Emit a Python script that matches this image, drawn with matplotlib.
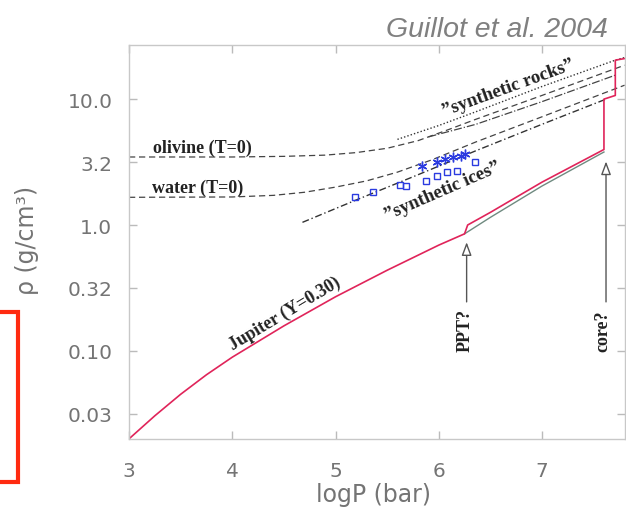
import matplotlib
matplotlib.use("Agg")
import matplotlib.pyplot as plt
from matplotlib.patches import Rectangle

# log10 P (bar) vs density (g/cm^3)
jup_x = [3.0, 3.25, 3.5, 3.75, 4.0, 4.5, 5.0, 5.5, 6.0, 6.25, 6.28, 6.5, 7.0, 7.6, 7.6, 7.71, 7.71, 7.8]
jup_rho = [0.020, 0.0305, 0.0452, 0.0646, 0.0891, 0.158, 0.269, 0.437, 0.692, 0.851, 1.00, 1.26, 2.19, 3.98,
           10.0, 10.7, 20.4, 21.0]
jup_alt_x = [6.25, 6.5, 7.0, 7.6]
jup_alt_rho = [0.851, 1.15, 2.04, 3.80]

olivine_x = [3.0, 4.0, 4.5, 4.9, 5.2, 5.5, 5.8, 6.1, 6.36, 7.0, 7.8]
olivine_rho = [3.47, 3.47, 3.51, 3.59, 3.76, 4.07, 4.68, 5.75, 6.92, 10.7, 18.6]
water_x = [3.0, 4.0, 4.4, 4.7, 5.0, 5.3, 5.6, 5.94, 6.36, 7.0, 7.8]
water_rho = [1.66, 1.67, 1.72, 1.82, 2.00, 2.24, 2.63, 3.31, 4.57, 7.24, 12.9]
rocks_x = [5.6, 6.0, 6.36, 7.0, 7.71, 7.8]
rocks_rho = [4.79, 6.17, 7.94, 12.6, 20.4, 21.4]
rocks2_x = [5.9, 6.36, 7.0, 7.71]
rocks2_rho = [5.01, 6.31, 9.55, 15.5]
ices_x = [4.68, 5.2, 5.8, 6.36, 7.0, 7.62]
ices_rho = [1.05, 1.58, 2.51, 3.89, 6.31, 10.0]

sq_x = [5.19, 5.36, 5.62, 5.68, 5.88, 5.98, 6.08, 6.18, 6.35]
sq_rho = [1.67, 1.83, 2.08, 2.04, 2.23, 2.45, 2.64, 2.68, 3.16]
star_x = [5.84, 5.98, 6.06, 6.14, 6.22, 6.25]
star_rho = [2.94, 3.16, 3.34, 3.47, 3.53, 3.66]

xticks = [3, 4, 5, 6, 7]
yticks = [10.0, 3.162, 1.0, 0.3162, 0.1, 0.03162]
ytick_labels = ["10.0", "3.2", "1.0", "0.32", "0.10", "0.03"]

W, H = 626, 510
fig = plt.figure(figsize=(W / 100, H / 100), dpi=100)
x0, x1, ytop, ybot = 129, 625, 46, 440
ax = fig.add_axes([x0 / W, 1 - ybot / H, (x1 - x0) / W, (ybot - ytop) / H])
ax.set_yscale("log")
ax.set_xlim(3, 3 + (x1 - x0) / 103.25)
ax.set_ylim(10 ** -1.70, 10 ** 1.43)

ink = "#444444"
serif = dict(family="Liberation Serif", weight="bold", color="#222222")

ax.plot(olivine_x, olivine_rho, ls=(0, (5, 3)), color=ink, lw=0.9)
ax.plot(water_x, water_rho, ls=(0, (5, 3)), color=ink, lw=0.9)
ax.plot(rocks_x, rocks_rho, ls=(0, (1, 1.5)), color="#333333", lw=1.0)
ax.plot(rocks2_x, rocks2_rho, ls="-.", color=ink, lw=0.9)
ax.plot(ices_x, ices_rho, ls=(0, (5, 2, 1, 2)), color="#333333", lw=1.0)

ax.plot(jup_alt_x, jup_alt_rho, color="#6f8a80", lw=1.0)
ax.plot(jup_x, jup_rho, color="#e0245a", lw=1.2)

ax.plot(sq_x, sq_rho, "s", ms=5, mfc="none", mec="#2b3be0", mew=1.0)
ax.plot(star_x, star_rho, ls="none", marker=(6, 2, 0), ms=7, mec="#2b3be0", mew=1.0)

ax.text(3.707, 4.16, "olivine (T=0)", fontsize=13, ha="center", va="center", **serif)
ax.text(3.668, 2.0, "water (T=0)", fontsize=13, ha="center", va="center", **serif)
ax.text(4.51, 0.20, "Jupiter (Y=0.30)", fontsize=13, ha="center", va="center",
        rotation=31, **serif)
ax.text(6.67, 12.4, "\u201dsynthetic rocks\u201d", fontsize=13.5, ha="center",
        va="center", rotation=20, **serif)
ax.text(6.04, 1.90, "\u201dsynthetic ices\u201d", fontsize=13.5, ha="center",
        va="center", rotation=23.5, **serif)

arrow = dict(arrowstyle="-|>,head_length=0.8,head_width=0.3", fc="white",
             ec="#555555", lw=1.0, shrinkA=0, shrinkB=0)
ax.annotate("", xy=(6.27, 0.73), xytext=(6.27, 0.245), arrowprops=arrow)
ax.annotate("", xy=(7.62, 3.2), xytext=(7.62, 0.245), arrowprops=arrow)
ax.text(6.254, 0.147, "PPT?", fontsize=13, rotation=90, ha="center", va="center", **serif)
ax.text(7.591, 0.147, "core?", fontsize=13, rotation=90, ha="center", va="center", **serif)

ax.set_xticks(xticks)
ax.set_xticklabels([str(t) for t in xticks])
ax.set_yticks(yticks)
ax.set_yticklabels(ytick_labels)
ax.minorticks_off()
ax.tick_params(direction="in", length=6, width=1, color="#bbbbbb",
               labelcolor="#747474", labelsize=14.5, top=True, right=True)
ax.tick_params(axis="x", pad=16)
ax.tick_params(axis="y", pad=12)
for s in ax.spines.values():
    s.set_color("#c8c8c8")
    s.set_linewidth(1)

fig.text(373 / W, 1 - 495 / H, "logP (bar)", fontsize=17, color="#747474",
         ha="center", va="center")
fig.text(27 / W, 1 - 240 / H, "\u03c1 (g/cm\u00b3)", fontsize=17, color="#747474",
         ha="center", va="center", rotation=90)
fig.text(608 / W, 1 - 30 / H, "Guillot et al. 2004", fontsize=20.5, color="#808080",
         family="Liberation Sans", style="italic", ha="right", va="center")

fig.patches.append(Rectangle((-6 / W, 1 - 483 / H), 23.5 / W, 170 / H,
                             transform=fig.transFigure, fill=False,
                             ec="#ff2a10", lw=3))

fig.savefig("out.png", dpi=100)
